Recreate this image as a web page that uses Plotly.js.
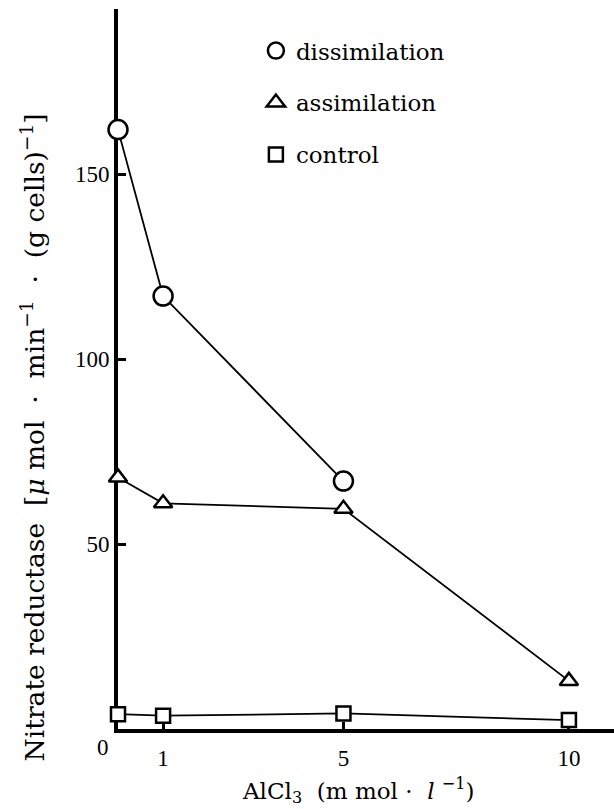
<!DOCTYPE html>
<html>
<head>
<meta charset="utf-8">
<script src="https://cdn.plot.ly/plotly-3.0.1.min.js"></script>
<style>html,body{margin:0;padding:0;background:#fff;}</style>
</head>
<body>
<div id="chart" style="width:614px;height:809px;"></div>
<script>
// Data
const seriesNames = ["dissimilation", "assimilation", "control"];
const dissX = [0, 1, 5];
const dissY = [162, 117, 67];
const assX = [0, 1, 5, 10];
const assY = [68, 61, 59.5, 13];
const ctrlX = [0, 1, 5, 10];
const ctrlY = [4, 3.6, 4.2, 2.4];
const xTickVals = [1, 5, 10];
const xTickText = ["1", "5", "10"];
const yTickVals = [50, 100, 150];
const yTickText = ["50", "100", "150"];

const TICKFONT = "'Liberation Serif', 'Times New Roman', serif";
const WIDEFONT = "'DejaVu Serif', serif";
const symbols = ["circle", "triangle-up", "square"];
const sizes = [19, 16, 14];
const xs = [dissX, assX, ctrlX];
const ys = [dissY, assY, ctrlY];

const traces = [];
for (let i = 0; i < 3; i++) {
  traces.push({
    x: xs[i], y: ys[i], mode: "lines", type: "scatter",
    line: {color: "black", width: 1.8},
    showlegend: false, hoverinfo: "skip", cliponaxis: false
  });
}
for (let i = 0; i < 3; i++) {
  traces.push({
    x: xs[i], y: ys[i], mode: "markers", type: "scatter", name: seriesNames[i],
    legendgroup: "g" + i,
    marker: {symbol: symbols[i], size: sizes[i], color: "white", line: {color: "black", width: 2.5}},
    cliponaxis: false
  });
}

const NB = "\u00a0";
const yTitle = "Nitrate" + NB + "reductase" + NB + NB + "[<i>μ</i>" + NB + "mol" + NB + NB + "·" + NB + NB + "min<sup>−1</sup>" + NB + NB + "·" + NB + NB + "(g" + NB + "cells)<sup>−1</sup>]";

const layout = {
  width: 614, height: 809,
  margin: {l: 118, r: 0, t: 9, b: 80},
  paper_bgcolor: "white", plot_bgcolor: "white",
  font: {family: TICKFONT, color: "black", size: 22},
  showlegend: true,
  legend: {
    x: 0.278, y: 0.972, xanchor: "left", yanchor: "top",
    font: {family: WIDEFONT, size: 23, color: "black"},
    tracegroupgap: 19, bgcolor: "rgba(0,0,0,0)", itemclick: false
  },
  xaxis: {
    range: [0, 11.0], showgrid: false, zeroline: false,
    showline: true, linewidth: 4, linecolor: "black",
    tickmode: "array", tickvals: xTickVals, ticktext: xTickText,
    ticks: "inside", ticklen: 7, tickwidth: 3, tickcolor: "black",
    ticklabelstandoff: 5,
    tickfont: {family: TICKFONT, size: 23, color: "black"}, layer: "below traces"
  },
  yaxis: {
    range: [0, 194.6], showgrid: false, zeroline: false,
    showline: true, linewidth: 4, linecolor: "black",
    tickmode: "array", tickvals: yTickVals, ticktext: yTickText,
    ticks: "inside", ticklen: 8, tickwidth: 3, tickcolor: "black",
    tickfont: {family: TICKFONT, size: 23, color: "black"}, layer: "below traces"
  },
  annotations: [
    {text: "0", xref: "paper", yref: "paper", x: 0, y: 0, xshift: -15, yshift: -18,
     showarrow: false, font: {family: TICKFONT, size: 23, color: "black"}, xanchor: "center", yanchor: "middle"},
    {text: yTitle,
     xref: "paper", yref: "paper", x: 0, y: 0.405, xshift: -85, textangle: -90,
     showarrow: false, font: {family: WIDEFONT, size: 26.5, color: "black"}, xanchor: "center", yanchor: "middle"},
    {text: "AlCl<sub>3</sub>" + NB + NB + "(m" + NB + "mol" + NB + "·" + NB + NB + "<i>l</i>" + NB + "<sup>−1</sup>)",
     xref: "paper", yref: "paper", x: 0.485, y: 0, yshift: -61,
     showarrow: false, font: {family: WIDEFONT, size: 23, color: "black"}, xanchor: "center", yanchor: "middle"}
  ]
};

Plotly.newPlot("chart", traces, layout, {displayModeBar: false, staticPlot: true});
</script>
</body>
</html>
